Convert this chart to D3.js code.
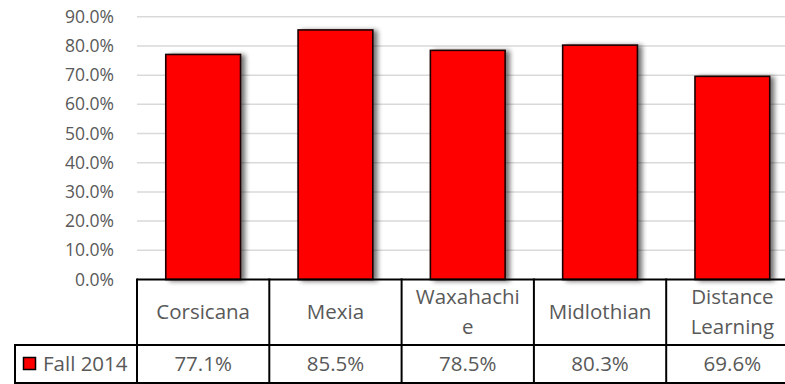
<!DOCTYPE html>
<html>
<head>
<meta charset="utf-8">
<script src="https://cdn.jsdelivr.net/npm/d3@7"></script>
<style>
  html, body { margin: 0; padding: 0; background: #fff; }
  svg { display: block; }
  text { font-family: "Open Sans", sans-serif; fill: #595959; }
</style>
</head>
<body>
<svg id="chart" width="785" height="384"></svg>
<script>
const categories = ["Corsicana", "Mexia", "Waxahachie", "Midlothian", "Distance Learning"];
const categoryLines = [["Corsicana"], ["Mexia"], ["Waxahachi", "e"], ["Midlothian"], ["Distance", "Learning"]];
const seriesName = "Fall 2014";
const values = [0.771, 0.855, 0.785, 0.803, 0.696];
const yTicks = [0, 0.1, 0.2, 0.3, 0.4, 0.5, 0.6, 0.7, 0.8, 0.9];
const valueLabels = ["77.1%", "85.5%", "78.5%", "80.3%", "69.6%"];

const svg = d3.select("#chart");
const W = 785, H = 384;
const plotLeft = 137, tableRight = 798.5;
const yZero = 279.5, yTop = 16.8;
const row1Bottom = 345, row2Bottom = 383;
const legendLeft = 15;

const x = d3.scaleBand().domain(categories).range([plotLeft, tableRight]).paddingInner(0).paddingOuter(0);
const y = d3.scaleLinear().domain([0, 0.9]).range([yZero, yTop]);

const defs = svg.append("defs");
const f = defs.append("filter").attr("id", "shadow").attr("x", "-20%").attr("y", "-20%").attr("width", "150%").attr("height", "140%");
f.append("feGaussianBlur").attr("in", "SourceAlpha").attr("stdDeviation", 2.5).attr("result", "b");
f.append("feOffset").attr("in", "b").attr("dx", 4).attr("dy", 1).attr("result", "o");
f.append("feComponentTransfer").attr("in", "o").attr("result", "s")
  .append("feFuncA").attr("type", "linear").attr("slope", 0.55);
const m = f.append("feMerge");
m.append("feMergeNode").attr("in", "s");
m.append("feMergeNode").attr("in", "SourceGraphic");

// gridlines
svg.append("g").selectAll("line").data(yTicks.slice(1)).join("line")
  .attr("x1", plotLeft).attr("x2", W)
  .attr("y1", d => y(d)).attr("y2", d => y(d))
  .attr("stroke", "#d9d9d9").attr("stroke-width", 1.5);

// y axis labels
const yAxis = d3.axisLeft(y).tickValues(yTicks).tickFormat(d3.format(".1%")).tickSize(0).tickPadding(23);
const ya = svg.append("g").attr("transform", `translate(${plotLeft},0)`).call(yAxis);
ya.select(".domain").remove();
ya.selectAll("text").style("font-family", '"Open Sans", sans-serif').style("font-size", "17.5px").attr("fill", "#595959");

// bars
const bw = x.bandwidth() * 0.565;
svg.append("g").attr("filter", "url(#shadow)").selectAll("rect").data(categories).join("rect")
  .attr("x", (d) => x(d) + (x.bandwidth() - bw) / 2)
  .attr("y", (d, i) => y(values[i]))
  .attr("width", bw)
  .attr("height", (d, i) => yZero - y(values[i]))
  .attr("fill", "#ff0000")
  .attr("stroke", "#1a0000").attr("stroke-width", 1.6);

// data table
const tg = svg.append("g");
const stroke = "#000", sw = 2;
tg.append("line").attr("x1", plotLeft).attr("x2", W).attr("y1", yZero).attr("y2", yZero).attr("stroke", stroke).attr("stroke-width", sw);
tg.append("line").attr("x1", legendLeft - 1).attr("x2", W).attr("y1", row1Bottom).attr("y2", row1Bottom).attr("stroke", stroke).attr("stroke-width", sw);
tg.append("line").attr("x1", legendLeft - 1).attr("x2", W).attr("y1", row2Bottom).attr("y2", row2Bottom).attr("stroke", stroke).attr("stroke-width", sw);
tg.append("line").attr("x1", legendLeft).attr("x2", legendLeft).attr("y1", row1Bottom).attr("y2", row2Bottom).attr("stroke", stroke).attr("stroke-width", sw);
tg.selectAll("line.col").data(categories.concat(["__end"])).join("line").attr("class", "col")
  .attr("x1", d => d === "__end" ? tableRight : x(d))
  .attr("x2", d => d === "__end" ? tableRight : x(d))
  .attr("y1", yZero - 1).attr("y2", row2Bottom + 1)
  .attr("stroke", stroke).attr("stroke-width", sw);

// category labels
const cg = tg.selectAll("text.cat").data(categories).join("text").attr("class", "cat")
  .attr("text-anchor", "middle").style("font-size", "20.5px");
cg.each(function(d, i) {
  const lines = categoryLines[i];
  const cx = x(d) + x.bandwidth() / 2;
  const t = d3.select(this);
  if (lines.length === 1) {
    t.append("tspan").attr("x", cx).attr("y", 319).text(lines[0]);
  } else {
    lines.forEach((l, j) => t.append("tspan").attr("x", cx).attr("y", 304 + j * 29.5).text(l));
  }
});

// value labels
tg.selectAll("text.val").data(categories).join("text").attr("class", "val")
  .attr("text-anchor", "middle").style("font-size", "20.5px")
  .attr("x", d => x(d) + x.bandwidth() / 2).attr("y", 371)
  .text((d, i) => valueLabels[i]);

// legend key
tg.append("rect").attr("x", 23.5).attr("y", 357.5).attr("width", 12).attr("height", 12)
  .attr("fill", "#ff0000").attr("stroke", "#000").attr("stroke-width", 1.5);
tg.append("text").attr("x", 43).attr("y", 371).style("font-size", "20.5px").text(seriesName);
</script>
</body>
</html>
